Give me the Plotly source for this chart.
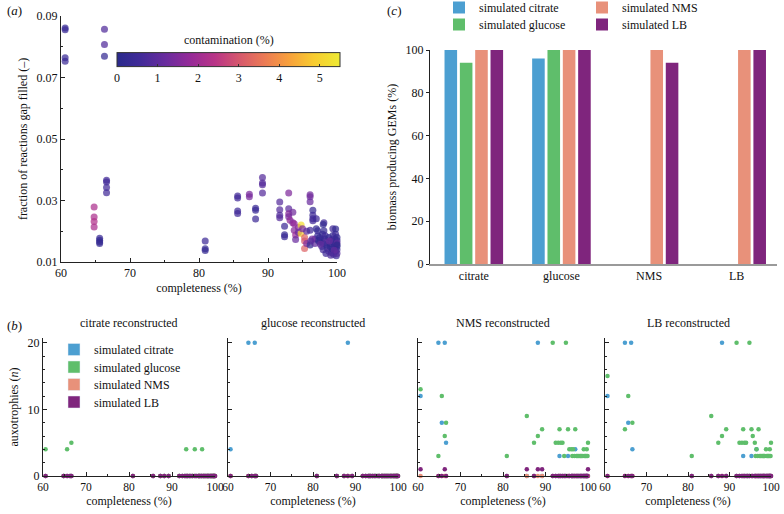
import plotly.graph_objects as go

SERIF = "Liberation Serif, Tinos, Times New Roman, DejaVu Serif, serif"

# ---------------- panel (a) data ----------------
a_completeness = [60.6, 60.6, 60.6, 60.6, 66.3, 66.3, 66.3,
                  64.8, 64.8, 64.8, 64.8, 65.6, 65.6, 65.6, 65.6,
                  66.6, 66.6, 66.6, 66.6, 80.9, 80.9, 80.9,
                  85.6, 85.6, 85.6, 85.6, 87.3, 87.3, 88.2, 88.2, 88.2,
                  89.2, 89.2, 89.2, 89.2, 91.7, 91.7, 91.7, 91.7,
                  92.4, 92.4, 92.4, 93.0, 93.0, 93.0, 93.0, 93.2,
                  93.6, 93.6, 93.8, 93.8, 94.0, 94.0, 94.4, 94.4,
                  94.8, 94.8, 95.3, 95.3, 95.3, 95.0, 95.6, 95.6,
                  96.1, 96.1, 96.1, 96.1, 96.1, 96.5, 96.5, 96.5, 96.5,
                  97.0, 97.0, 97.2, 98.1, 98.1, 99.4,
                  96.8, 96.8, 97.2, 97.3, 97.5, 97.5, 97.7, 97.8, 97.9, 98.0,
                  98.0, 98.2, 98.3, 98.4, 98.5, 98.6, 98.8, 98.8, 99.0, 99.0,
                  99.2, 99.2, 99.3, 99.4, 99.5, 99.5, 99.6, 99.7, 99.7, 99.8,
                  99.8, 99.9, 99.9, 100.0, 100.0, 100.0, 100.0, 100.0, 100.0, 100.0,
                  99.6, 98.9, 97.6, 96.4, 96.2, 98.4, 99.1, 99.8, 98.0]
a_gapfill = [0.0861, 0.0855, 0.0764, 0.0753, 0.0857, 0.0807, 0.0769,
             0.0279, 0.0246, 0.0232, 0.0214, 0.0177, 0.0171, 0.0165, 0.0160,
             0.0366, 0.0360, 0.0342, 0.0325, 0.0168, 0.0143, 0.0137,
             0.0315, 0.0308, 0.0266, 0.0258, 0.0320, 0.0312, 0.0275, 0.0268, 0.0240,
             0.0375, 0.0357, 0.0351, 0.0324, 0.0295, 0.0270, 0.0252, 0.0244,
             0.0216, 0.0189, 0.0182, 0.0324, 0.0273, 0.0257, 0.0247, 0.0236,
             0.0262, 0.0228, 0.0224, 0.0203, 0.0188, 0.0173, 0.0212, 0.0196,
             0.0220, 0.0193, 0.0180, 0.0168, 0.0144, 0.0208, 0.0200, 0.0160,
             0.0319, 0.0312, 0.0296, 0.0203, 0.0155, 0.0268, 0.0252, 0.0241, 0.0234,
             0.0241, 0.0208, 0.0202, 0.0228, 0.0202, 0.0208,
             0.0175, 0.0160, 0.0185, 0.0170, 0.0165, 0.0180, 0.0172, 0.0150, 0.0190, 0.0140,
             0.0160, 0.0175, 0.0185, 0.0165, 0.0155, 0.0145, 0.0180, 0.0135, 0.0160, 0.0150,
             0.0172, 0.0130, 0.0142, 0.0186, 0.0165, 0.0125, 0.0155, 0.0145, 0.0175, 0.0135,
             0.0190, 0.0160, 0.0120, 0.0150, 0.0170, 0.0140, 0.0180, 0.0128, 0.0162, 0.0155,
             0.0138, 0.0168, 0.0158, 0.0175, 0.0168, 0.0128, 0.0122, 0.0207, 0.0222]
a_contam = [0.35, 0.4, 0.4, 0.45, 0.8, 0.8, 0.3,
            2.2, 2.2, 2.3, 2.2, 0.4, 0.3, 0.2, 0.3,
            0.6, 0.6, 0.6, 0.6, 0.5, 0.3, 0.3,
            0.6, 0.6, 0.5, 0.6, 1.4, 1.4, 0.4, 0.4, 0.5,
            0.9, 0.9, 0.9, 0.9, 0.9, 0.9, 0.8, 0.9,
            0.5, 0.3, 0.4, 1.5, 1.0, 1.6, 1.4, 1.7,
            1.3, 1.5, 1.8, 1.6, 1.9, 1.2, 1.6, 1.2,
            5.2, 5.0, 3.2, 3.0, 3.2, 1.4, 1.0, 1.5,
            1.3, 1.3, 1.2, 0.6, 0.2, 0.3, 0.5, 0.5, 0.6,
            0.5, 0.2, 0.3, 0.6, 0.3, 0.6,
            0.8, 1.0, 0.4, 0.2, 0.3, 0.2, 0.4, 0.7, 0.3, 0.6,
            0.3, 0.2, 0.5, 0.9, 0.4, 0.3, 0.2, 0.8, 0.3, 0.2,
            0.5, 0.6, 0.2, 0.3, 0.2, 0.8, 0.3, 0.4, 0.6, 0.2,
            0.5, 0.3, 0.5, 0.2, 0.4, 0.6, 0.3, 0.9, 1.0, 0.1,
            1.1, 1.2, 1.1, 1.3, 0.9, 0.5, 0.7, 0.2, 0.2]

contam_ticks = [0, 1, 2, 3, 4, 5]
a_xticks = [60, 70, 80, 90, 100]
a_yticks = [0.01, 0.03, 0.05, 0.07, 0.09]

# ---------------- panel (c) data ----------------
c_categories = ["citrate", "glucose", "NMS", "LB"]
c_sim_citrate = [100, 96, 0, 0]
c_sim_glucose = [94, 100, 0, 0]
c_sim_nms = [100, 100, 100, 100]
c_sim_lb = [100, 100, 94, 100]
c_yticks = [0, 20, 40, 60, 80, 100]

# ---------------- panel (b) data ----------------
b_completeness = [60.6, 64.8, 65.6, 66.3, 66.6, 80.9, 85.6, 87.3, 88.2, 89.2,
                  91.7, 92.4, 93.0, 93.3, 93.6, 94.0, 94.4, 94.8, 95.3, 95.6,
                  96.1, 96.3, 96.5, 96.8, 97.0, 97.3, 97.5, 97.8, 98.1, 98.3,
                  98.5, 98.8, 99.0, 99.2, 99.4, 99.6, 99.7, 99.9, 100.0]
zeros39 = [0] * 39

citrate_rec_citrate = zeros39
citrate_rec_glucose = [4, 0, 4, 0, 5, 0, 0, 0, 0, 0,
                       0, 0, 0, 4, 0, 0, 0, 0, 4, 0,
                       0, 0, 0, 0, 4, 0, 0, 0, 0, 0,
                       0, 0, 0, 0, 0, 0, 0, 0, 0]
citrate_rec_nms = zeros39
citrate_rec_lb = zeros39

glucose_rec_citrate = [4, 20, 0, 20, 0, 0, 0, 0, 20, 0,
                       0, 0, 0, 0, 0, 0, 0, 0, 0, 0,
                       0, 0, 0, 0, 0, 0, 0, 0, 0, 0,
                       0, 0, 0, 0, 0, 0, 0, 0, 0]
glucose_rec_glucose = zeros39
glucose_rec_nms = zeros39
glucose_rec_lb = zeros39

nms_rec_citrate = [12, 20, 8, 20, 5, 0, 0, 0, 20, 0,
                   0, 0, 0, 3, 0, 0, 0, 0, 3, 0,
                   0, 0, 0, 0, 4, 0, 0, 0, 0, 0,
                   0, 0, 0, 0, 0, 0, 0, 0, 0]
nms_rec_glucose = [13, 3, 12, 6, 8, 3, 9, 5, 6, 7,
                   20, 5, 5, 7, 5, 5, 3, 20, 7, 4,
                   4, 3, 4, 3, 7, 3, 3, 3, 3, 3,
                   3, 3, 4, 3, 3, 3, 4, 3, 5]
nms_rec_nms = zeros39
nms_rec_lb = [1, 0, 0, 1, 0, 0, 1, 0, 1, 1,
              0, 0, 0, 0, 0, 0, 0, 0, 0, 0,
              0, 0, 0, 0, 0, 0, 0, 0, 0, 0,
              0, 0, 0, 0, 0, 0, 0, 0, 1]

lb_rec_citrate = [12, 20, 8, 20, 4, 0, 0, 0, 20, 0,
                  0, 0, 0, 3, 0, 0, 0, 0, 3, 0,
                  0, 0, 4, 0, 0, 0, 0, 0, 0, 0,
                  0, 0, 0, 0, 0, 0, 0, 0, 0]
lb_rec_glucose = [15, 7, 12, 0, 8, 3, 9, 5, 6, 7,
                  20, 5, 5, 7, 5, 5, 0, 20, 7, 6,
                  5, 3, 4, 3, 7, 3, 3, 3, 3, 3,
                  3, 4, 3, 3, 3, 3, 4, 3, 5]
lb_rec_nms = zeros39
lb_rec_lb = zeros39

b_titles = ["citrate reconstructed", "glucose reconstructed",
            "NMS reconstructed", "LB reconstructed"]
b_series = [
    [citrate_rec_citrate, citrate_rec_glucose, citrate_rec_nms, citrate_rec_lb],
    [glucose_rec_citrate, glucose_rec_glucose, glucose_rec_nms, glucose_rec_lb],
    [nms_rec_citrate, nms_rec_glucose, nms_rec_nms, nms_rec_lb],
    [lb_rec_citrate, lb_rec_glucose, lb_rec_nms, lb_rec_lb],
]
media_names = ["simulated citrate", "simulated glucose", "simulated NMS", "simulated LB"]
b_xticks = [60, 70, 80, 90, 100]
b_yticks = [0, 10, 20]

# ---------------- styles ----------------
W, H = 784, 514
COL = ["#4c9fd1", "#5fbe6b", "#e8917a", "#7f257d"]
cscale = [[0.0, "#2a2a8c"], [0.1, "#402b98"], [0.22, "#6a2c9e"], [0.33, "#962a98"],
          [0.44, "#b93587"], [0.55, "#d6586c"], [0.66, "#eb7a55"], [0.77, "#f8a03c"],
          [0.88, "#f8cb30"], [1.0, "#eeea33"]]
AX = "#222222"
tickfont = dict(family=SERIF, size=12, color="#111111")
titlefont = dict(family=SERIF, size=12, color="#111111")


def px_x(p):
    return p / W


def px_y(p):
    return 1 - p / H


fig = go.Figure()

# panel (a)
fig.add_trace(go.Scatter(
    x=a_completeness, y=a_gapfill, mode="markers", xaxis="x", yaxis="y",
    showlegend=False, cliponaxis=False,
    marker=dict(size=7, color=a_contam, colorscale=cscale, cmin=0, cmax=5.5,
                opacity=0.72, line=dict(width=0),
                colorbar=dict(orientation="h", x=px_x(117), xanchor="left",
                              y=px_y(89), yanchor="bottom", len=223, lenmode="pixels",
                              thickness=14, thicknessmode="pixels",
                              xpad=0, ypad=0,
                              outlinewidth=1, outlinecolor="#333",
                              tickvals=contam_ticks, ticks="inside", ticklen=3,
                              tickcolor="#333", tickfont=tickfont))))

# panel (c): one legend per entry so rows can be placed exactly
c_vals = [c_sim_citrate, c_sim_glucose, c_sim_nms, c_sim_lb]
c_leg_pos = [(439, -7), (439, 10), (582, -7), (582, 10)]
for i in range(4):
    fig.add_trace(go.Bar(x=c_categories, y=c_vals[i], name=media_names[i],
                         marker=dict(color=COL[i], line=dict(width=0)),
                         xaxis="x2", yaxis="y2", legend=f"legend{i+1 if i else ''}"))

# panel (b)
for k in range(4):
    for m in range(4):
        fig.add_trace(go.Scatter(
            x=b_completeness, y=b_series[k][m], mode="markers",
            xaxis=f"x{k+3}", yaxis=f"y{k+3}", showlegend=False, cliponaxis=False,
            marker=dict(size=4.5, color=COL[m], line=dict(width=0))))

# legend entries for panel (b)
for m in range(4):
    fig.add_trace(go.Bar(x=[None], y=[None], name=media_names[m],
                         marker=dict(color=COL[m]), xaxis="x3", yaxis="y3",
                         legend=f"legend{m+5}"))

base_ax = dict(showline=True, linecolor=AX, linewidth=1, ticks="inside", ticklen=4,
               tickcolor=AX, showgrid=False, zeroline=False, tickfont=tickfont,
               title_font=titlefont, fixedrange=True, automargin=False)

leg_common = dict(xanchor="left", yanchor="top", font=dict(family=SERIF, size=12, color="#111"),
                  bgcolor="rgba(0,0,0,0)", tracegroupgap=0, itemwidth=30)

layout = dict(
    width=W, height=H, margin=dict(l=0, r=0, t=0, b=0, autoexpand=False),
    paper_bgcolor="white", plot_bgcolor="white",
    font=dict(family=SERIF, size=12, color="#111"),
    barmode="group", bargap=0.3, bargroupgap=0.18,
    xaxis=dict(base_ax, domain=[px_x(61), px_x(337)], range=[60, 100], anchor="y",
               tickvals=a_xticks, minor=dict(dtick=5, ticks="inside", ticklen=2, tickcolor=AX),
               title=dict(text="completeness (%)", standoff=4)),
    yaxis=dict(base_ax, domain=[px_y(262), px_y(16)], range=[0.01, 0.09], anchor="x",
               tickvals=a_yticks, ticktext=[f"{v:.2f}" for v in a_yticks],
               minor=dict(tick0=0.01, dtick=0.01, ticks="inside", ticklen=2, tickcolor=AX),
               title=dict(text="fraction of reactions gap filled (–)", standoff=6)),
    xaxis2=dict(base_ax, domain=[px_x(430), px_x(777)], range=[-0.5, 3.46], anchor="y2",
                type="category", ticks="", linecolor="#9a9a9a", linewidth=2),
    yaxis2=dict(base_ax, domain=[px_y(264), px_y(50)], range=[0, 100], anchor="x2",
                tickvals=c_yticks, ticks="outside", ticklen=3,
                title=dict(text="biomass producing GEMs (%)", standoff=6)),
)

for i, (lx, ly) in enumerate(c_leg_pos):
    layout[f"legend{i+1 if i else ''}"] = dict(leg_common, x=px_x(lx), y=px_y(ly))
b_leg_rows = [349, 366.5, 384, 401.5]
for m in range(4):
    layout[f"legend{m+5}"] = dict(leg_common, x=px_x(54), y=px_y(b_leg_rows[m] - 14))

b_domains = [(43, 215), (228, 398), (418, 588), (605, 771)]
annotations = []
for k in range(4):
    xa, ya = f"xaxis{k+3}", f"yaxis{k+3}"
    layout[xa] = dict(base_ax, domain=[px_x(b_domains[k][0]), px_x(b_domains[k][1])],
                      range=[60, 100], anchor=f"y{k+3}", tickvals=b_xticks,
                      tickfont=dict(family=SERIF, size=11.5, color="#111111"),
                      ticklabeloverflow="allow",
                      minor=dict(dtick=5, ticks="inside", ticklen=2, tickcolor=AX),
                      title=dict(text="completeness (%)", standoff=4))
    layout[ya] = dict(base_ax, domain=[px_y(476), px_y(338)], range=[0, 20.7],
                      anchor=f"x{k+3}", tickvals=b_yticks, showticklabels=(k == 0),
                      minor=dict(dtick=2, ticks="inside", ticklen=2, tickcolor=AX))
    if k == 0:
        layout[ya]["title"] = dict(text="auxotrophies (<i>n</i>)", standoff=6)
    annotations.append(dict(text=b_titles[k], xref="paper", yref="paper",
                            x=px_x((b_domains[k][0] + b_domains[k][1]) / 2), y=px_y(323),
                            xanchor="center", yanchor="middle", showarrow=False,
                            font=dict(family=SERIF, size=12, color="#111")))

# colorbar title
annotations.append(dict(text="contamination (%)", xref="paper", yref="paper",
                        x=px_x(228.5), y=px_y(40), xanchor="center", yanchor="middle",
                        showarrow=False, font=titlefont))

for txt, xp, yp in [("(<i>a</i>)", 5, 10), ("(<i>c</i>)", 385, 10), ("(<i>b</i>)", 5, 325)]:
    annotations.append(dict(text=txt, xref="paper", yref="paper", x=px_x(xp), y=px_y(yp),
                            xanchor="left", yanchor="middle", showarrow=False,
                            font=dict(family=SERIF, size=13, color="#111")))

layout["annotations"] = annotations
fig.update_layout(**layout)
fig.write_html("out.html", config={"displayModeBar": False},
               post_script="document.body.style.margin='0px';"
                           "document.body.style.overflow='hidden';")
